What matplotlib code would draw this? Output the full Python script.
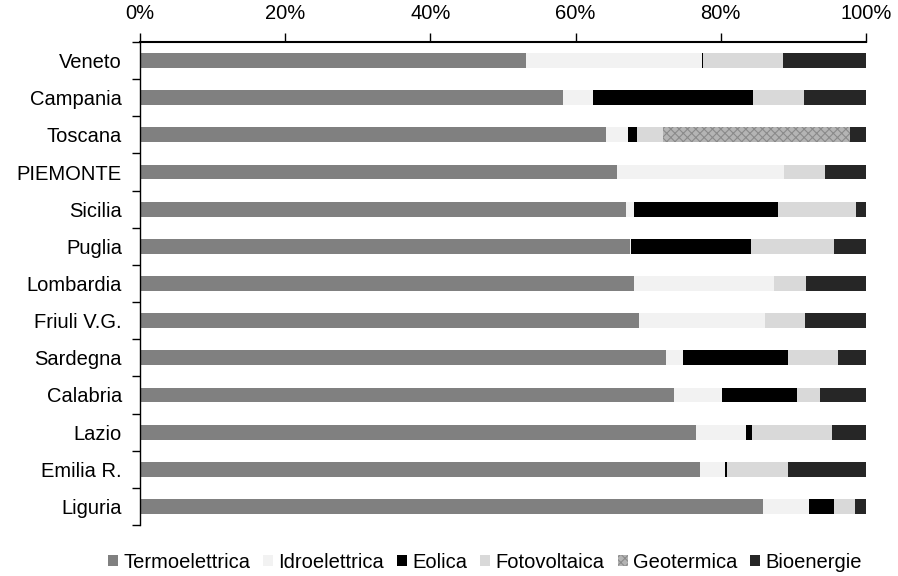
import matplotlib
matplotlib.use("Agg")
import matplotlib.pyplot as plt
import numpy as np
from matplotlib.ticker import FixedLocator, PercentFormatter

plt.rcParams['font.family'] = ['Liberation Sans', 'DejaVu Sans']
plt.rcParams['hatch.color'] = '#7a7a7a'
plt.rcParams['hatch.linewidth'] = 0.8

regions = ["Veneto", "Campania", "Toscana", "PIEMONTE", "Sicilia", "Puglia",
           "Lombardia", "Friuli V.G.", "Sardegna", "Calabria", "Lazio",
           "Emilia R.", "Liguria"]

termo  = [53.2, 58.3, 64.2, 65.7, 66.9, 67.5, 68.1, 68.8, 72.5, 73.6, 76.6, 77.1, 85.8]
idro   = [24.2,  4.1,  3.0, 23.0,  1.1,  0.1, 19.2, 17.3,  2.3,  6.5,  6.9,  3.5,  6.3]
eolica = [ 0.2, 22.1,  1.2,  0.0, 19.9, 16.6,  0.0,  0.0, 14.4, 10.4,  0.8,  0.3,  3.5]
foto   = [11.0,  6.9,  3.7,  5.7, 10.7, 11.4,  4.4,  5.5,  7.0,  3.2, 11.0,  8.4,  2.9]
geo    = [ 0.0,  0.0, 25.7,  0.0,  0.0,  0.0,  0.0,  0.0,  0.0,  0.0,  0.0,  0.0,  0.0]
bio    = [11.4,  8.6,  2.2,  5.6,  1.4,  4.4,  8.3,  8.4,  3.8,  6.3,  4.7, 10.7,  1.5]

series = [("Termoelettrica", termo, "#808080", None),
          ("Idroelettrica", idro, "#f2f2f2", None),
          ("Eolica", eolica, "#000000", None),
          ("Fotovoltaica", foto, "#d9d9d9", None),
          ("Geotermica", geo, "#b4b4b4", "xxxx"),
          ("Bioenergie", bio, "#262626", None)]

fig = plt.figure(figsize=(8.98, 5.76), dpi=100)
ax = fig.add_axes([140/898, 51/576, 726/898, 483/576])

y = np.arange(len(regions))
left = np.zeros(len(regions))
handles = []
for name, vals, col, hatch in series:
    v = np.array(vals)
    b = ax.barh(y, v, left=left, height=0.4, color=col, hatch=hatch,
                edgecolor='#8a8a8a' if hatch else col, linewidth=0.0, label=name)
    handles.append(b)
    left += v

ax.set_xlim(0, 100)
ax.set_ylim(12.5, -0.5)
ax.xaxis.tick_top()
ax.set_xticks(np.arange(0, 101, 20))
ax.xaxis.set_major_formatter(PercentFormatter(decimals=0))
ax.tick_params(axis='x', which='major', length=6.5, width=1, pad=7, labelsize=14.5, colors='black')
ax.set_yticks(y)
ax.set_yticklabels(regions)
ax.yaxis.set_minor_locator(FixedLocator(np.arange(-0.5, 13, 1)))
ax.tick_params(axis='y', which='major', length=0, pad=13, labelsize=14.5)
ax.tick_params(axis='y', which='minor', length=6, width=1)
for s in ['right', 'bottom']:
    ax.spines[s].set_visible(False)
ax.spines['top'].set_linewidth(1.5)
ax.spines['left'].set_linewidth(1.0)

fig.legend(handles=handles, loc='center', bbox_to_anchor=(0.54, (576-562)/576),
           ncol=6, frameon=False, fontsize=14.5, handlelength=0.5, handleheight=0.5,
           handletextpad=0.25, columnspacing=0.65, borderaxespad=0, borderpad=0)

fig.savefig("out.png", dpi=100)
